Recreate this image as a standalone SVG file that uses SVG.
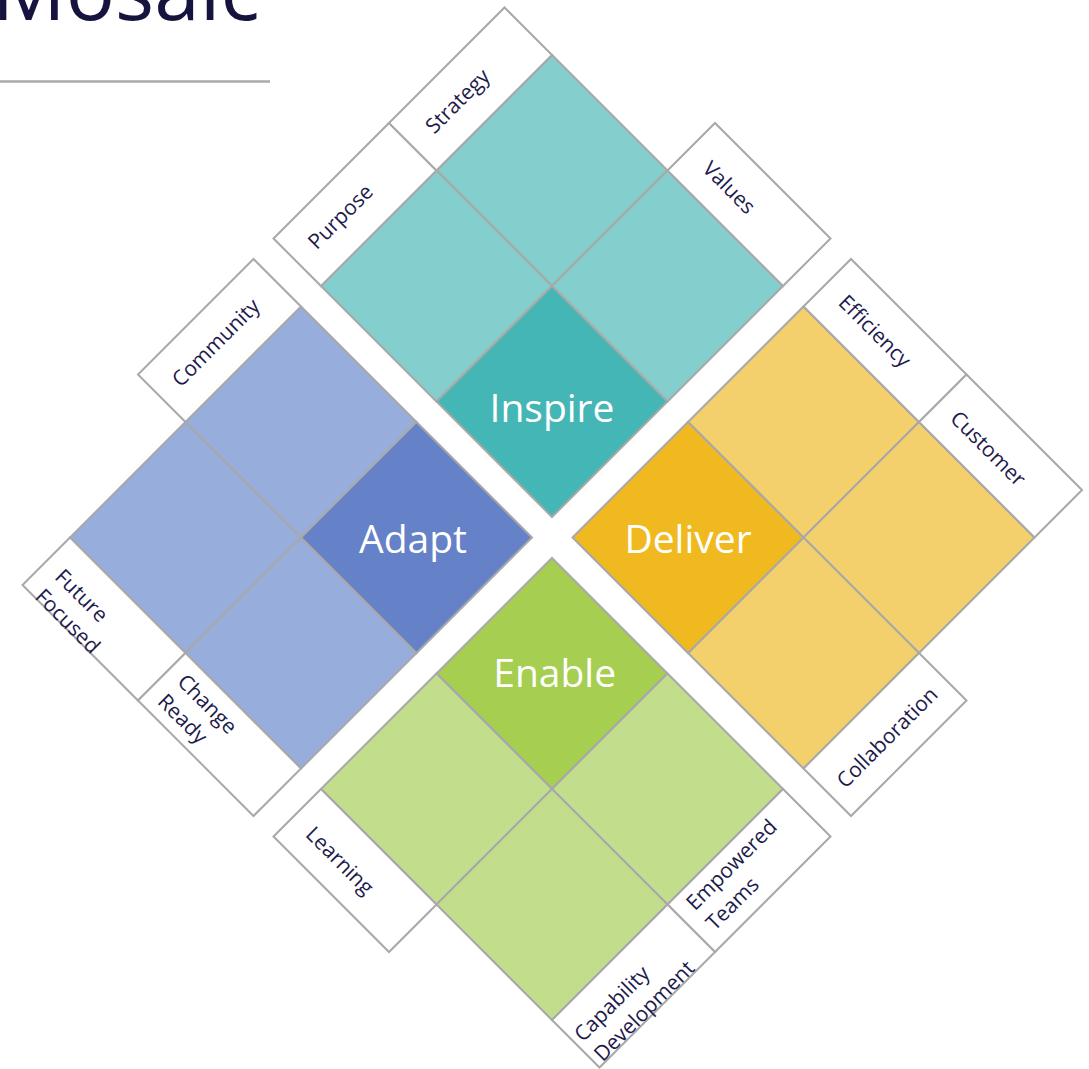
<svg xmlns="http://www.w3.org/2000/svg" width="1089" height="1069" viewBox="0 0 1089 1069">
<style>
  polygon { stroke: #a8a8a8; stroke-width: 2; stroke-linejoin: miter; }
  .lbl { fill: #ffffff; }
  .t1 { fill: #84cfce; } .t2 { fill: #45b6b6; }
  .b1 { fill: #97addc; } .b2 { fill: #6581c8; }
  .y1 { fill: #f3d06c; } .y2 { fill: #f0b91f; }
  .g1 { fill: #c2de8d; } .g2 { fill: #a6ce51; }
  text { font-family: "Open Sans", "Liberation Sans", sans-serif; }
  .lt { font-size: 21px; fill: #1d1b4c; }
  .ct { font-size: 39px; fill: #ffffff; text-anchor: middle; }
  .mid { text-anchor: middle; }
</style>
<rect width="1089" height="1069" fill="#ffffff"/>
<g id="title">
  <text x="-8" y="20" font-size="82" fill="#16143f">Mosaic</text>
  <line x1="0" y1="81.5" x2="270" y2="81.5" stroke="#aaaaaa" stroke-width="2.5"/>
</g>
<g id="connectors"/>

<g id="inspire-cluster">
  <g id="inspire-top"><polygon class="t1" points="552,55 667.5,170.5 552,286 436.5,170.5"/></g>
  <g id="inspire-left"><polygon class="t1" points="436.5,170.5 552,286 436.5,401.5 321,286"/></g>
  <g id="inspire-right"><polygon class="t1" points="667.5,170.5 783,286 667.5,401.5 552,286"/></g>
  <g id="inspire"><polygon class="t2" points="552,286 667.5,401.5 552,517 436.5,401.5"/>
    <text class="ct" x="552" y="422">Inspire</text></g>
  <g id="purpose"><polygon class="lbl" points="321,286 436.5,170.5 389,123 273.5,238.5"/>
    <text class="lt mid" transform="translate(342,218.3) rotate(-45)" y="5">Purpose</text></g>
  <g id="strategy"><polygon class="lbl" points="436.5,170.5 552,55 504.5,7.5 389,123"/>
    <text class="lt mid" transform="translate(459.2,102.8) rotate(-45)" y="5">Strategy</text></g>
  <g id="values"><polygon class="lbl" points="667.5,170.5 783,286 830.5,238.5 715,123"/>
    <text class="lt mid" transform="translate(729.3,187.3) rotate(45)" y="7.5">Values</text></g>
</g>

<g id="adapt-cluster">
  <g id="adapt-top"><polygon class="b1" points="301,306.5 416.5,422 301,537.5 185.5,422"/></g>
  <g id="adapt-left"><polygon class="b1" points="185.5,422 301,537.5 185.5,653 70,537.5"/></g>
  <g id="adapt-bottom"><polygon class="b1" points="301,537.5 416.5,653 301,768.5 185.5,653"/></g>
  <g id="adapt"><polygon class="b2" points="416.5,422 532,537.5 416.5,653 301,537.5"/>
    <text class="ct" x="413" y="553">Adapt</text></g>
  <g id="community"><polygon class="lbl" points="185.5,422 301,306.5 253.5,259 138,374.5"/>
    <text class="lt mid" transform="translate(217.5,344.2) rotate(-45)" y="5">Community</text></g>
  <g id="future-focused"><polygon class="lbl" points="70,537.5 185.5,653 138,700.5 22.5,585"/>
    <text class="lt" transform="translate(74.2,608.3) rotate(45)"><tspan x="-36" y="-7">Future</tspan><tspan x="-36" y="21">Focused</tspan></text></g>
  <g id="change-ready"><polygon class="lbl" points="185.5,653 301,768.5 253.5,816 138,700.5"/>
    <text class="lt" transform="translate(196.7,716.3) rotate(45)"><tspan x="-38" y="-9">Change</tspan><tspan x="-38" y="19">Ready</tspan></text></g>
</g>

<g id="deliver-cluster">
  <g id="deliver-top"><polygon class="y1" points="803.5,306.5 919,422 803.5,537.5 688,422"/></g>
  <g id="deliver-right"><polygon class="y1" points="919,422 1034.5,537.5 919,653 803.5,537.5"/></g>
  <g id="deliver-bottom"><polygon class="y1" points="803.5,537.5 919,653 803.5,768.5 688,653"/></g>
  <g id="deliver"><polygon class="y2" points="688,422 803.5,537.5 688,653 572.5,537.5"/>
    <text class="ct" x="688" y="553">Deliver</text></g>
  <g id="efficiency"><polygon class="lbl" points="803.5,306.5 919,422 966.5,374.5 851,259"/>
    <text class="lt mid" transform="translate(873.3,332.7) rotate(45)" y="5">Efficiency</text></g>
  <g id="customer"><polygon class="lbl" points="919,422 1034.5,537.5 1082,490 966.5,374.5"/>
    <text class="lt mid" transform="translate(988.3,448.3) rotate(45)" y="7.5">Customer</text></g>
  <g id="collaboration"><polygon class="lbl" points="919,653 803.5,768.5 851,816 966.5,700.5"/>
    <text class="lt mid" transform="translate(887,737.2) rotate(-45)" y="7.5">Collaboration</text></g>
</g>

<g id="enable-cluster">
  <g id="enable"><polygon class="g2" points="552,558 667.5,673.5 552,789 436.5,673.5"/>
    <text class="ct" x="554.7" y="687">Enable</text></g>
  <g id="enable-left"><polygon class="g1" points="436.5,673.5 552,789 436.5,904.5 321,789"/></g>
  <g id="enable-right"><polygon class="g1" points="667.5,673.5 783,789 667.5,904.5 552,789"/></g>
  <g id="enable-bottom"><polygon class="g1" points="552,789 667.5,904.5 552,1020 436.5,904.5"/></g>
  <g id="learning"><polygon class="lbl" points="321,789 436.5,904.5 389,952 273.5,836.5"/>
    <text class="lt mid" transform="translate(338.3,862.2) rotate(45)" y="5">Learning</text></g>
  <g id="empowered-teams"><polygon class="lbl" points="783,789 667.5,904.5 715,952 830.5,836.5"/>
    <text class="lt" transform="translate(741.2,874.5) rotate(-45)"><tspan x="-59" y="-6.5">Empowered</tspan><tspan x="-59" y="21.5">Teams</tspan></text></g>
  <g id="capability-development"><polygon class="lbl" points="667.5,904.5 552,1020 599.5,1067.5 715,952"/>
    <text class="lt" transform="translate(636.7,1002.5) rotate(-45)"><tspan x="-66.5" y="-9.5">Capability</tspan><tspan x="-66.5" y="18.5">Development</tspan></text></g>
</g>
</svg>
